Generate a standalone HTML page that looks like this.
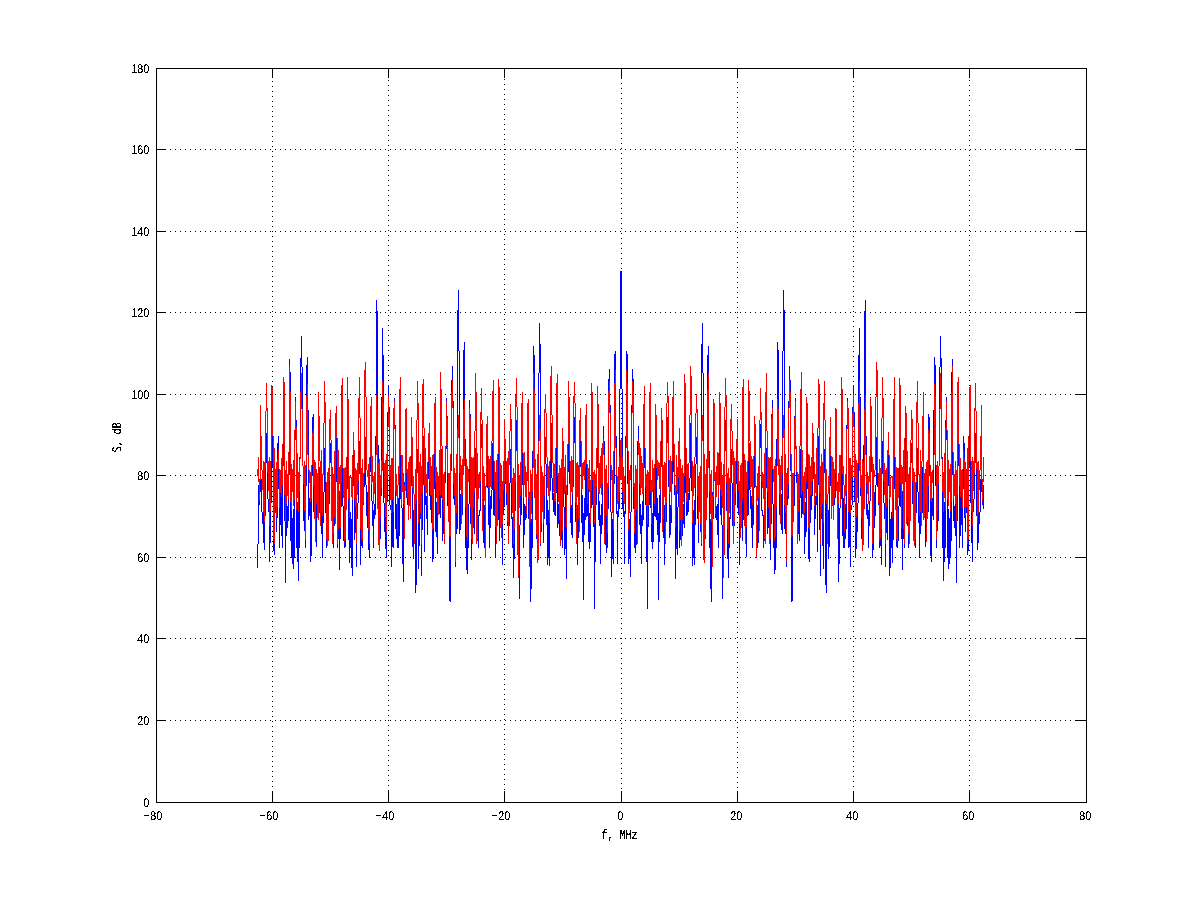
<!DOCTYPE html>
<html lang="en">
<head>
<meta charset="utf-8">
<title>S, dB vs f, MHz</title>
<style>
html,body{margin:0;padding:0;background:#fff;}
body{width:1200px;height:901px;position:relative;overflow:hidden;font-family:"Liberation Sans",sans-serif;color:#000;}
svg{position:absolute;left:0;top:0;display:block;}
</style>
</head>
<body>
<svg width="1200" height="901" viewBox="0 0 1200 901" shape-rendering="crispEdges">
<rect x="0" y="0" width="1200" height="901" fill="#fff"/>
<g transform="translate(0.5,0)" fill="none" stroke="#000" stroke-width="1">
<g stroke-dasharray="1 4">
<path d="M272 68V802" stroke-dashoffset="2"/>
<path d="M388 68V802" stroke-dashoffset="3"/>
<path d="M504 68V802" stroke-dashoffset="4"/>
<path d="M621 68V802" stroke-dashoffset="0"/>
<path d="M737 68V802" stroke-dashoffset="1"/>
<path d="M853 68V802" stroke-dashoffset="2"/>
<path d="M969 68V802" stroke-dashoffset="3"/>
</g>
<path d="M272 791v11M272 69v9M388 791v11M388 69v9M504 791v11M504 69v9M621 791v11M621 69v9M737 791v11M737 69v9M853 791v11M853 69v9M969 791v11M969 69v9"/>
<path d="M156 68v735M1086 68v735"/>
</g>
<g transform="translate(0,0.5)" fill="none" stroke="#000" stroke-width="1">
<path d="M156 720H1086M156 638H1086M156 557H1086M156 475H1086M156 394H1086M156 312H1086M156 231H1086M156 149H1086" stroke-dasharray="1 4" stroke-dashoffset="1"/>
<path d="M157 720h9M1075 720h11M157 638h9M1075 638h11M157 557h9M1075 557h11M157 475h9M1075 475h11M157 394h9M1075 394h11M157 312h9M1075 312h11M157 231h9M1075 231h11M157 149h9M1075 149h11"/>
<path d="M156 68h931M156 802h931"/>
</g>
<g transform="translate(0.5,0)" fill="none" stroke-width="1">
<path stroke="#00f" d="M257 544v24M258 485v59M259 479v26M260 448v44M261 479v33M262 512v12M263 506v37M264 509v41M265 461v55M266 433v30M267 463v36M268 499v13M269 504v58M270 502v41M271 422v81M272 425v43M273 468v83M274 488v67M275 495v18M276 489v43M277 443v75M278 436v53M279 488v60M280 478v47M281 485v51M282 466v82M283 379v87M284 384v137M285 508v75M286 495v41M287 506v22M288 475v46M289 359v116M290 372v169M291 497v61M292 518v46M293 509v60M294 440v118M295 397v43M296 420v128M297 502v60M298 490v91M299 457v91M300 358v99M301 336v31M302 367v99M303 466v55M304 503v28M305 486v62M306 365v121M307 357v53M308 410v110M309 498v18M310 495v67M311 476v80M312 417v59M313 414v98M314 491v17M315 475v40M316 485v62M317 485v28M318 439v72M319 467v46M320 506v14M321 500v34M322 495v63M323 492v31M324 448v44M325 471v42M326 513v35M327 505v17M328 474v45M329 451v53M330 443v20M331 463v52M332 510v16M333 515v33M334 505v21M335 442v69M336 435v47M337 482v66M338 489v50M339 491v79M340 487v52M341 430v77M342 423v83M343 506v35M344 502v46M345 497v50M346 489v16M347 419v70M348 438v102M349 509v54M350 512v36M351 519v49M352 486v90M353 448v38M354 473v67M355 477v56M356 519v48M357 503v16M358 457v46M359 441v33M360 474v91M361 517v29M362 490v58M363 487v18M364 448v39M365 437v48M366 485v31M367 492v36M368 511v39M369 472v86M370 416v56M371 406v95M372 501v25M373 510v38M374 504v15M375 436v79M376 300v136M377 311v134M378 445v83M379 492v40M380 496v43M381 397v99M382 328v69M383 355v148M384 503v29M385 513v36M386 502v56M387 412v90M388 385v27M389 407v98M390 505v5M391 510v57M392 488v59M393 408v140M394 398v27M395 425v104M396 504v35M397 513v35M398 498v50M399 441v95M400 432v67M401 499v9M402 508v56M403 496v86M404 482v23M405 426v56M406 425v73M407 498v7M408 497v8M409 492v14M410 486v29M411 433v53M412 454v93M413 510v49M414 504v36M415 486v107M416 473v112M417 449v24M418 468v101M419 496v50M420 498v21M421 508v68M422 440v90M423 436v49M424 485v67M425 482v23M426 496v23M427 479v56M428 448v31M429 439v57M430 486v24M431 495v28M432 498v64M433 489v70M434 451v38M435 446v86M436 502v35M437 501v53M438 497v16M439 481v33M440 431v87M441 449v49M442 498v43M443 491v43M444 483v28M445 449v34M446 398v51M447 416v90M448 503v14M449 493v108M450 471v131M451 380v91M452 366v35M453 401v98M454 494v11M455 498v69M456 494v40M457 310v219M458 290v61M459 351v183M460 494v36M461 484v36M462 468v47M463 350v118M464 342v97M465 439v109M466 480v90M467 494v80M468 504v44M469 400v104M470 414v110M471 495v65M472 496v32M473 505v23M474 488v46M475 448v40M476 467v77M477 493v48M478 515v33M479 510v6M480 448v63M481 424v24M482 446v62M483 495v48M484 505v43M485 487v20M486 457v30M487 442v46M488 488v37M489 500v48M490 496v32M491 490v19M492 443v47M493 432v83M494 487v29M495 500v57M496 488v36M497 504v15M498 447v73M499 453v88M500 487v32M501 495v29M502 514v51M503 490v25M504 437v70M505 454v30M506 484v21M507 481v45M508 510v32M509 483v43M510 449v34M511 461v58M512 517v31M513 509v69M514 485v74M515 437v74M516 420v31M517 451v66M518 509v22M519 525v74M520 485v40M521 459v56M522 447v38M523 485v63M524 504v31M525 506v14M526 481v37M527 403v78M528 399v120M529 492v56M530 472v130M531 519v70M532 451v97M533 346v105M534 355v122M535 477v28M536 501v38M537 491v26M538 373v142M539 323v50M540 344v202M541 491v41M542 489v20M543 493v50M544 460v59M545 437v27M546 464v61M547 500v65M548 510v48M549 491v75M550 436v55M551 423v55M552 478v22M553 493v19M554 479v36M555 493v23M556 446v47M557 438v90M558 504v20M559 472v64M560 474v33M561 502v38M562 444v104M563 459v48M564 507v48M565 480v69M566 491v88M567 472v23M568 418v54M569 440v44M570 484v39M571 505v30M572 487v51M573 432v55M574 417v26M575 443v79M576 506v21M577 505v60M578 496v42M579 436v94M580 424v43M581 467v56M582 495v47M583 513v87M584 498v37M585 457v63M586 445v72M587 498v18M588 488v54M589 513v36M590 508v34M591 423v85M592 431v74M593 505v22M594 506v103M595 477v85M596 468v37M597 437v31M598 454v66M599 501v25M600 515v49M601 504v30M602 452v73M603 426v26M604 441v64M605 501v44M606 492v61M607 507v41M608 379v130M609 369v36M610 405v107M611 512v65M612 519v40M613 484v80M614 354v130M615 351v85M616 436v78M617 511v53M618 496v21M619 389v120M620 271v118M621 271v118M622 389v120M623 496v21M624 511v53M625 436v78M626 351v85M627 354v130M628 484v80M629 519v40M630 512v65M631 405v107M632 369v36M633 379v130M634 507v41M635 492v61M636 501v44M637 441v64M638 426v26M639 452v73M640 504v30M641 515v49M642 501v25M643 454v66M644 437v31M645 468v37M646 477v85M647 506v103M648 505v22M649 431v74M650 423v85M651 508v34M652 513v36M653 488v54M654 498v18M655 445v72M656 457v63M657 498v37M658 513v87M659 495v47M660 467v56M661 424v43M662 436v94M663 496v42M664 505v60M665 506v21M666 443v79M667 417v26M668 432v55M669 487v51M670 505v30M671 484v39M672 440v44M673 418v54M674 472v23M675 491v88M676 480v69M677 507v48M678 459v48M679 444v104M680 502v38M681 474v33M682 472v64M683 504v20M684 438v90M685 446v47M686 493v23M687 479v36M688 493v19M689 478v22M690 423v55M691 436v55M692 491v75M693 510v48M694 500v65M695 464v61M696 437v27M697 460v59M698 493v50M699 489v20M700 491v41M701 344v202M702 323v50M703 373v142M704 491v26M705 501v38M706 477v28M707 355v122M708 346v105M709 451v97M710 519v70M711 472v130M712 492v56M713 399v120M714 403v78M715 481v37M716 506v14M717 504v31M718 485v63M719 447v38M720 459v56M721 485v40M722 525v74M723 509v22M724 451v66M725 420v31M726 437v74M727 485v74M728 509v69M729 517v31M730 461v58M731 449v34M732 483v43M733 510v32M734 481v45M735 484v21M736 454v30M737 437v70M738 490v25M739 514v51M740 495v29M741 487v32M742 453v88M743 447v73M744 504v15M745 488v36M746 500v57M747 487v29M748 432v83M749 443v47M750 490v19M751 496v32M752 500v48M753 488v37M754 442v46M755 457v30M756 487v20M757 505v43M758 495v48M759 446v62M760 424v24M761 448v63M762 510v6M763 515v33M764 493v48M765 467v77M766 448v40M767 488v46M768 505v23M769 496v32M770 495v65M771 414v110M772 400v104M773 504v44M774 494v80M775 480v90M776 439v109M777 342v97M778 350v118M779 468v47M780 484v36M781 494v36M782 351v183M783 290v61M784 310v219M785 494v40M786 498v69M787 494v11M788 401v98M789 366v35M790 380v91M791 471v131M792 493v108M793 503v14M794 416v90M795 398v51M796 449v34M797 483v28M798 491v43M799 498v43M800 449v49M801 431v87M802 481v33M803 497v16M804 501v53M805 502v35M806 446v86M807 451v38M808 489v70M809 498v64M810 495v28M811 486v24M812 439v57M813 448v31M814 479v56M815 496v23M816 482v23M817 485v67M818 436v49M819 440v90M820 508v68M821 498v21M822 496v50M823 468v101M824 449v24M825 473v112M826 486v107M827 504v36M828 510v49M829 454v93M830 433v53M831 486v29M832 492v14M833 497v8M834 498v7M835 425v73M836 426v56M837 482v23M838 496v86M839 508v56M840 499v9M841 432v67M842 441v95M843 498v50M844 513v35M845 504v35M846 425v104M847 398v27M848 408v140M849 488v59M850 510v57M851 505v5M852 407v98M853 385v27M854 412v90M855 502v56M856 513v36M857 503v29M858 355v148M859 328v69M860 397v99M861 496v43M862 492v40M863 445v83M864 311v134M865 300v136M866 436v79M867 504v15M868 510v38M869 501v25M870 406v95M871 416v56M872 472v86M873 511v39M874 492v36M875 485v31M876 437v48M877 448v39M878 487v18M879 490v58M880 517v29M881 474v91M882 441v33M883 457v46M884 503v16M885 519v48M886 477v56M887 473v67M888 448v38M889 486v90M890 519v49M891 512v36M892 509v54M893 438v102M894 419v70M895 489v16M896 497v50M897 502v46M898 506v35M899 423v83M900 430v77M901 487v52M902 491v79M903 489v50M904 482v66M905 435v47M906 442v69M907 505v21M908 515v33M909 510v16M910 463v52M911 443v20M912 451v53M913 474v45M914 505v17M915 513v35M916 471v42M917 448v44M918 492v31M919 495v63M920 500v34M921 506v14M922 467v46M923 439v72M924 485v28M925 485v62M926 475v40M927 491v17M928 414v98M929 417v59M930 476v80M931 495v67M932 498v18M933 410v110M934 357v53M935 365v121M936 486v62M937 503v28M938 466v55M939 367v99M940 336v31M941 358v99M942 457v91M943 490v91M944 502v60M945 420v128M946 397v43M947 440v118M948 509v60M949 518v46M950 497v61M951 372v169M952 359v116M953 475v46M954 506v22M955 495v41M956 508v75M957 384v137M958 379v87M959 466v82M960 485v51M961 478v47M962 488v60M963 436v53M964 443v75M965 489v43M966 495v18M967 488v67M968 468v83M969 425v43M970 422v81M971 502v41M972 504v58M973 499v13M974 463v36M975 433v30M976 461v55M977 509v41M978 506v37M979 512v12M980 479v33M981 448v44M982 479v26M983 485v24"/>
<path stroke="#f00" d="M257 469v7M258 457v25M259 480v21M260 405v75M261 436v34M262 470v20M263 461v52M264 462v60M265 411v58M266 383v28M267 408v65M268 461v30M269 457v69M270 461v50M271 385v76M272 387v49M273 436v103M274 448v96M275 469v38M276 462v54M277 459v48M278 450v19M279 469v39M280 470v23M281 458v39M282 444v42M283 377v67M284 382v113M285 470v52M286 461v43M287 474v22M288 452v47M289 366v86M290 392v110M291 464v47M292 469v23M293 460v46M294 430v70M295 401v29M296 427v83M297 453v45M298 472v40M299 459v33M300 392v67M301 373v36M302 409v57M303 466v18M304 461v50M305 465v75M306 396v69M307 384v71M308 455v15M309 470v13M310 472v30M311 465v34M312 433v32M313 430v56M314 460v59M315 462v80M316 469v35M317 473v45M318 392v128M319 416v45M320 461v65M321 450v62M322 474v42M323 423v52M324 381v42M325 402v80M326 482v58M327 472v74M328 468v73M329 419v62M330 410v30M331 440v81M332 467v77M333 474v60M334 451v67M335 413v111M336 406v32M337 438v106M338 450v79M339 467v17M340 465v63M341 385v98M342 378v90M343 468v30M344 468v73M345 467v72M346 457v53M347 377v80M348 399v100M349 476v42M350 476v2M351 477v20M352 455v45M353 432v23M354 450v49M355 468v39M356 470v74M357 463v32M358 398v83M359 377v41M360 418v111M361 468v71M362 459v82M363 473v30M364 370v103M365 362v35M366 397v73M367 470v7M368 464v66M369 457v87M370 406v51M371 397v88M372 456v26M373 476v28M374 472v22M375 455v28M376 395v60M377 409v100M378 463v82M379 459v92M380 475v43M381 460v28M382 381v90M383 403v60M384 463v35M385 460v57M386 454v78M387 427v51M388 395v32M389 414v63M390 465v35M391 458v55M392 458v41M393 408v104M394 401v28M395 429v62M396 474v22M397 485v47M398 466v19M399 389v85M400 377v78M401 455v50M402 455v37M403 473v31M404 485v54M405 409v82M406 408v65M407 469v29M408 462v58M409 457v49M410 456v63M411 417v39M412 437v51M413 476v18M414 494v50M415 469v35M416 420v80M417 381v39M418 403v120M419 462v42M420 454v59M421 466v78M422 384v110M423 379v49M424 428v58M425 448v48M426 474v19M427 462v44M428 433v29M429 423v58M430 457v38M431 466v30M432 455v75M433 454v74M434 403v51M435 397v85M436 467v31M437 472v41M438 476v39M439 450v41M440 372v123M441 389v57M442 446v54M443 474v38M444 472v72M445 446v26M446 401v45M447 418v55M448 473v49M449 473v63M450 454v83M451 392v62M452 380v28M453 408v76M454 468v28M455 473v89M456 454v59M457 429v76M458 415v23M459 438v35M460 456v34M461 465v59M462 459v36M463 409v66M464 399v67M465 466v41M466 459v78M467 466v75M468 469v13M469 408v61M470 418v89M471 457v82M472 458v86M473 457v51M474 431v61M475 373v58M476 392v152M477 453v86M478 474v25M479 472v16M480 412v69M481 388v32M482 420v111M483 466v32M484 473v28M485 486v72M486 424v62M487 416v40M488 456v32M489 459v46M490 456v31M491 441v48M492 391v50M493 380v81M494 461v28M495 472v55M496 460v84M497 454v72M498 379v75M499 387v112M500 463v65M501 465v73M502 481v43M503 461v30M504 419v65M505 439v22M506 461v32M507 458v64M508 451v93M509 431v34M510 404v27M511 419v65M512 478v35M513 468v76M514 473v56M515 395v88M516 378v29M517 407v148M518 464v114M519 475v33M520 462v34M521 403v87M522 392v61M523 453v45M524 452v33M525 466v31M526 472v42M527 403v77M528 399v98M529 495v72M530 470v52M531 474v40M532 468v24M533 373v95M534 390v108M535 459v61M536 474v61M537 454v109M538 441v119M539 415v26M540 430v114M541 466v58M542 472v40M543 476v47M544 409v87M545 394v19M546 413v44M547 457v31M548 466v30M549 461v62M550 376v85M551 366v49M552 415v48M553 463v29M554 464v37M555 448v54M556 383v65M557 374v102M558 473v29M559 465v55M560 468v78M561 459v61M562 428v103M563 441v37M564 467v27M565 455v36M566 485v42M567 444v41M568 381v63M569 397v64M570 461v47M571 456v36M572 460v34M573 396v64M574 382v21M575 403v100M576 463v81M577 462v35M578 465v54M579 420v112M580 408v33M581 441v49M582 463v26M583 462v14M584 460v20M585 415v53M586 404v60M587 464v40M588 468v21M589 460v32M590 480v44M591 383v108M592 392v88M593 472v34M594 470v54M595 474v32M596 448v39M597 386v62M598 404v89M599 463v31M600 456v32M601 448v47M602 443v41M603 439v16M604 455v89M605 469v41M606 465v51M607 483v50M608 391v96M609 381v32M610 413v52M611 465v15M612 470v43M613 451v79M614 383v68M615 370v78M616 448v28M617 476v28M618 467v34M619 457v35M620 440v40M621 439v41M622 457v35M623 467v34M624 476v28M625 448v28M626 370v78M627 383v68M628 451v79M629 470v43M630 465v15M631 413v52M632 381v32M633 391v96M634 483v50M635 465v51M636 469v41M637 455v89M638 439v16M639 443v41M640 448v47M641 456v32M642 463v31M643 404v89M644 386v62M645 448v39M646 474v32M647 470v54M648 472v34M649 392v88M650 383v108M651 480v44M652 460v32M653 468v21M654 464v40M655 404v60M656 415v53M657 460v20M658 462v14M659 463v26M660 441v49M661 408v33M662 420v112M663 465v54M664 462v35M665 463v81M666 403v100M667 382v21M668 396v64M669 460v34M670 456v36M671 461v47M672 397v64M673 381v63M674 444v41M675 485v42M676 455v36M677 467v27M678 441v37M679 428v103M680 459v61M681 468v78M682 465v55M683 473v29M684 374v102M685 383v65M686 448v54M687 464v37M688 463v29M689 415v48M690 366v49M691 376v85M692 461v62M693 466v30M694 457v31M695 413v44M696 394v19M697 409v87M698 476v47M699 472v40M700 466v58M701 430v114M702 415v26M703 441v119M704 454v109M705 474v61M706 459v61M707 390v108M708 373v95M709 468v24M710 474v40M711 470v52M712 495v72M713 399v98M714 403v77M715 472v42M716 466v31M717 452v33M718 453v45M719 392v61M720 403v87M721 462v34M722 475v33M723 464v114M724 407v148M725 378v29M726 395v88M727 473v56M728 468v76M729 478v35M730 419v65M731 404v27M732 431v34M733 451v93M734 458v64M735 461v32M736 439v22M737 419v65M738 461v30M739 481v43M740 465v73M741 463v65M742 387v112M743 379v75M744 454v72M745 460v84M746 472v55M747 461v28M748 380v81M749 391v50M750 441v48M751 456v31M752 459v46M753 456v32M754 416v40M755 424v62M756 486v72M757 473v28M758 466v32M759 420v111M760 388v32M761 412v69M762 472v16M763 474v25M764 453v86M765 392v152M766 373v58M767 431v61M768 457v51M769 458v86M770 457v82M771 418v89M772 408v61M773 469v13M774 466v75M775 459v78M776 466v41M777 399v67M778 409v66M779 459v36M780 465v59M781 456v34M782 438v35M783 415v23M784 429v76M785 454v59M786 473v89M787 468v28M788 408v76M789 380v28M790 392v62M791 454v83M792 473v63M793 473v49M794 418v55M795 401v45M796 446v26M797 472v72M798 474v38M799 446v54M800 389v57M801 372v123M802 450v41M803 476v39M804 472v41M805 467v31M806 397v85M807 403v51M808 454v74M809 455v75M810 466v30M811 457v38M812 423v58M813 433v29M814 462v44M815 474v19M816 448v48M817 428v58M818 379v49M819 384v110M820 466v78M821 454v59M822 462v42M823 403v120M824 381v39M825 420v80M826 469v35M827 494v50M828 476v18M829 437v51M830 417v39M831 456v63M832 457v49M833 462v58M834 469v29M835 408v65M836 409v82M837 485v54M838 473v31M839 455v37M840 455v50M841 377v78M842 389v85M843 466v19M844 485v47M845 474v22M846 429v62M847 401v28M848 408v104M849 458v41M850 458v55M851 465v35M852 414v63M853 395v32M854 427v51M855 454v78M856 460v57M857 463v35M858 403v60M859 381v90M860 460v28M861 475v43M862 459v92M863 463v82M864 409v100M865 395v60M866 455v28M867 472v22M868 476v28M869 456v26M870 397v88M871 406v51M872 457v87M873 464v66M874 470v7M875 397v73M876 362v35M877 370v103M878 473v30M879 459v82M880 468v71M881 418v111M882 377v41M883 398v83M884 463v32M885 470v74M886 468v39M887 450v49M888 432v23M889 455v45M890 477v20M891 476v2M892 476v42M893 399v100M894 377v80M895 457v53M896 467v72M897 468v73M898 468v30M899 378v90M900 385v98M901 465v63M902 467v17M903 450v79M904 438v106M905 406v32M906 413v111M907 451v67M908 474v60M909 467v77M910 440v81M911 410v30M912 419v62M913 468v73M914 472v74M915 482v58M916 402v80M917 381v42M918 423v52M919 474v42M920 450v62M921 461v65M922 416v45M923 392v128M924 473v45M925 469v35M926 462v80M927 460v59M928 430v56M929 433v32M930 465v34M931 472v30M932 470v13M933 455v15M934 384v71M935 396v69M936 465v75M937 461v50M938 466v18M939 409v57M940 373v36M941 392v67M942 459v33M943 472v40M944 453v45M945 427v83M946 401v29M947 430v70M948 460v46M949 469v23M950 464v47M951 392v110M952 366v86M953 452v47M954 474v22M955 461v43M956 470v52M957 382v113M958 377v67M959 444v42M960 458v39M961 470v23M962 469v39M963 450v19M964 459v48M965 462v54M966 469v38M967 448v96M968 436v103M969 387v49M970 385v76M971 461v50M972 457v69M973 461v30M974 408v65M975 383v28M976 411v58M977 462v60M978 461v52M979 470v20M980 436v34M981 405v75M982 480v21M983 457v25"/>
</g>
<defs>
<filter id="thr" x="0" y="0" width="100%" height="100%" color-interpolation-filters="sRGB">
<feComponentTransfer>
<feFuncR type="discrete" tableValues="0"/>
<feFuncG type="discrete" tableValues="0"/>
<feFuncB type="discrete" tableValues="0"/>
<feFuncA type="discrete" tableValues="0 0 1 1 1"/>
</feComponentTransfer>
</filter>
</defs>
<g filter="url(#thr)" fill="#000" font-family="Liberation Sans, sans-serif" font-size="10.79" shape-rendering="auto" text-rendering="geometricPrecision">
<text transform="translate(143.2,820.0) scale(1,1.165)"><tspan dy="-0.8" textLength="7" lengthAdjust="spacingAndGlyphs">-</tspan><tspan dy="0.8">80</tspan></text>
<text transform="translate(259.2,820.0) scale(1,1.165)"><tspan dy="-0.8" textLength="7" lengthAdjust="spacingAndGlyphs">-</tspan><tspan dy="0.8">60</tspan></text>
<text transform="translate(375.2,820.0) scale(1,1.165)"><tspan dy="-0.8" textLength="7" lengthAdjust="spacingAndGlyphs">-</tspan><tspan dy="0.8">40</tspan></text>
<text transform="translate(491.2,820.0) scale(1,1.165)"><tspan dy="-0.8" textLength="7" lengthAdjust="spacingAndGlyphs">-</tspan><tspan dy="0.8">20</tspan></text>
<text transform="translate(617.2,820.0) scale(1,1.165)">0</text>
<text transform="translate(730.2,820.0) scale(1,1.165)">20</text>
<text transform="translate(846.2,820.0) scale(1,1.165)">40</text>
<text transform="translate(962.2,820.0) scale(1,1.165)">60</text>
<text transform="translate(1079.2,820.0) scale(1,1.165)">80</text>
<text transform="translate(143.2,807.0) scale(1,1.165)">0</text>
<text transform="translate(137.2,725.0) scale(1,1.165)">20</text>
<text transform="translate(137.2,643.0) scale(1,1.165)">40</text>
<text transform="translate(137.2,562.0) scale(1,1.165)">60</text>
<text transform="translate(137.2,480.0) scale(1,1.165)">80</text>
<text transform="translate(131.2,399.0) scale(1,1.165)">100</text>
<text transform="translate(131.2,317.0) scale(1,1.165)">120</text>
<text transform="translate(131.2,236.0) scale(1,1.165)">140</text>
<text transform="translate(131.2,154.0) scale(1,1.165)">160</text>
<text transform="translate(131.2,73.0) scale(1,1.165)">180</text>
<g font-family="Liberation Mono, monospace" font-size="10">
<text transform="translate(601.6,839) scale(1,1.36)" xml:space="preserve">f, MHz</text>
<text transform="translate(121,452.4) rotate(-90) scale(1,1.36)" xml:space="preserve">S, dB</text>
</g>
</g>
</svg>
</body>
</html>
